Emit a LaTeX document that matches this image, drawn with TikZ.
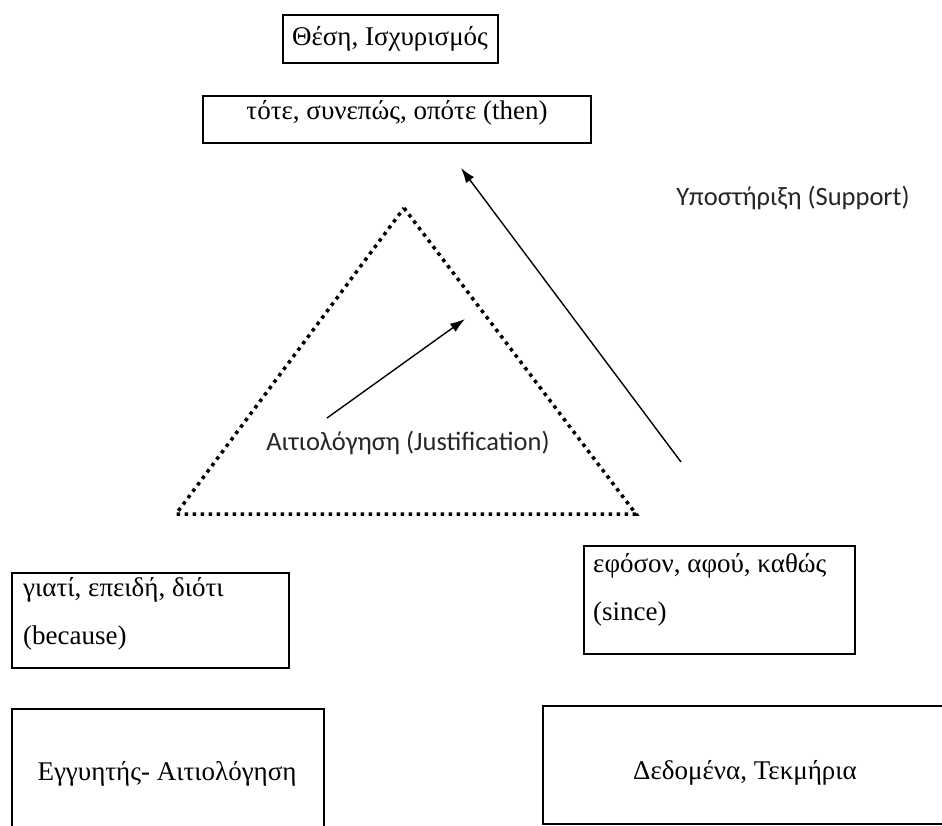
\documentclass[tikz,border=0pt]{standalone}
\usepackage{fontspec}
\setmainfont{Liberation Serif}
\newfontfamily\calfont{Carlito}
\usetikzlibrary{positioning, arrows.meta}

\begin{document}
\begin{tikzpicture}[x=1pt, y=-1pt,
    box/.style={draw, line width=1.5pt, rectangle, inner sep=0pt, anchor=north west},
    serif/.style={font=\fontsize{27}{32}\selectfont, inner sep=0pt},
    sanslabel/.style={font=\calfont\fontsize{26.5}{30}\selectfont, inner sep=0pt, text=black!85},
    dotline/.style={line width=3.5pt, dash pattern=on 3.5pt off 4.5pt},
    arr/.style={line width=1.4pt, -{Latex[length=15pt, width=10pt]}}]
\clip (0,0) rectangle (942,825);

% claim boxes
\node[box, minimum width=215, minimum height=48] (claim) at (282,14) {};
\node[serif, anchor=base] (claimtxt) at (390,45) {Θέση, Ισχυρισμός};
\node[box, minimum width=388, minimum height=47] (then) at (202,95) {};
\node[serif, anchor=base] (thentxt) at (397,119) {τότε, συνεπώς, οπότε (then)};

% support
\node[sanslabel] (support) at (793,198) {Υποστήριξη (Support)};
\coordinate (supstart) at (681,462);
\coordinate (supend) at (461,168);
\draw[arr] (supstart) -- (supend);

% justification triangle
\coordinate (ttop) at (404,208);
\coordinate (tleft) at (176,514);
\coordinate (tright) at (636,514);
\draw[dotline] (ttop) -- (tright) -- (tleft) -- cycle;
\coordinate (juststart) at (327,418);
\coordinate (justend) at (465,319);
\draw[arr] (juststart) -- (justend);
\node[sanslabel] (justif) at (408,443) {Αιτιολόγηση (Justification)};

% connectives
\node[box, minimum width=277, minimum height=95] (because) at (11,572) {};
\node[serif, anchor=base west] (because1) at (23,596) {γιατί, επειδή, διότι};
\node[serif, anchor=base west] (because2) at (23,644) {(because)};
\node[box, minimum width=271, minimum height=108] (since) at (583,545) {};
\node[serif, anchor=base west] (since1) at (593,572) {εφόσον, αφού, καθώς};
\node[serif, anchor=base west] (since2) at (593,620) {(since)};

% warrant and data
\node[box, minimum width=312, minimum height=140] (warrant) at (11,708) {};
\node[serif, anchor=base] (warranttxt) at (167,780) {Εγγυητής- Αιτιολόγηση};
\node[box, minimum width=420, minimum height=118] (data) at (542,705) {};
\node[serif, anchor=base] (datatxt) at (745,779) {Δεδομένα, Τεκμήρια};

\end{tikzpicture}
\end{document}
